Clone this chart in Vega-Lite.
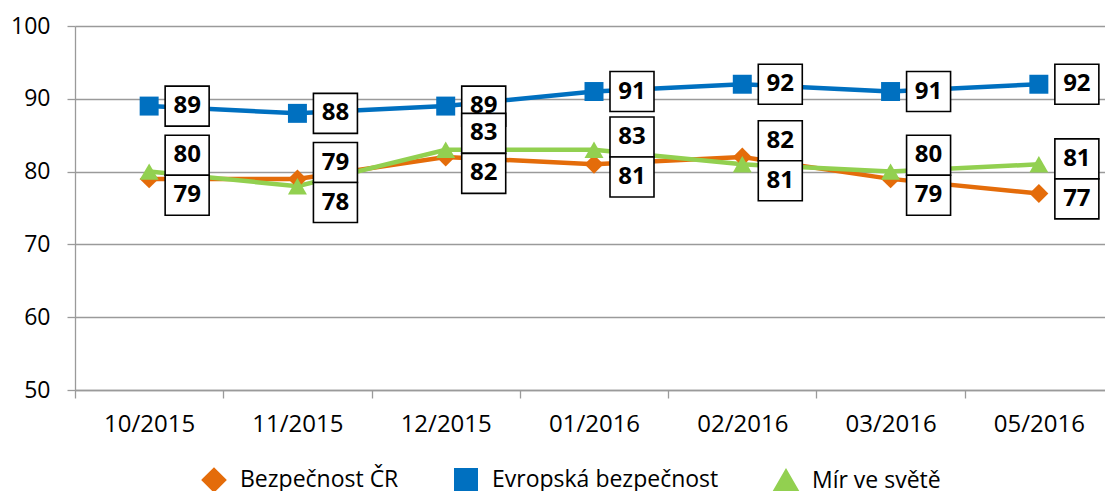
{
  "$schema": "https://vega.github.io/schema/vega-lite/v6.json",
  "width": 1030,
  "height": 364,
  "autosize": {"type": "none"},
  "padding": {"left": 75, "top": 26, "right": 0, "bottom": 101},
  "config": {"view": {"stroke": null}, "font": "Open Sans"},
  "data": {
    "values": [
      {"month": "10/2015", "series": "Bezpečnost ČR", "value": 79},
      {"month": "11/2015", "series": "Bezpečnost ČR", "value": 79},
      {"month": "12/2015", "series": "Bezpečnost ČR", "value": 82},
      {"month": "01/2016", "series": "Bezpečnost ČR", "value": 81},
      {"month": "02/2016", "series": "Bezpečnost ČR", "value": 82},
      {"month": "03/2016", "series": "Bezpečnost ČR", "value": 79},
      {"month": "05/2016", "series": "Bezpečnost ČR", "value": 77},
      {"month": "10/2015", "series": "Evropská bezpečnost", "value": 89},
      {"month": "11/2015", "series": "Evropská bezpečnost", "value": 88},
      {"month": "12/2015", "series": "Evropská bezpečnost", "value": 89},
      {"month": "01/2016", "series": "Evropská bezpečnost", "value": 91},
      {"month": "02/2016", "series": "Evropská bezpečnost", "value": 92},
      {"month": "03/2016", "series": "Evropská bezpečnost", "value": 91},
      {"month": "05/2016", "series": "Evropská bezpečnost", "value": 92},
      {"month": "10/2015", "series": "Mír ve světě", "value": 80},
      {"month": "11/2015", "series": "Mír ve světě", "value": 78},
      {"month": "12/2015", "series": "Mír ve světě", "value": 83},
      {"month": "01/2016", "series": "Mír ve světě", "value": 83},
      {"month": "02/2016", "series": "Mír ve světě", "value": 81},
      {"month": "03/2016", "series": "Mír ve světě", "value": 80},
      {"month": "05/2016", "series": "Mír ve světě", "value": 81}
    ]
  },
  "encoding": {
    "x": {
      "field": "month", "type": "nominal",
      "sort": ["10/2015", "11/2015", "12/2015", "01/2016", "02/2016", "03/2016", "05/2016"],
      "scale": {"type": "band", "range": [0, 1038], "paddingInner": 0, "paddingOuter": 0},
      "axis": {
        "title": null, "grid": false, "labelAngle": 0, "tickBand": "extent",
        "domainColor": "#9a9a9a", "domainWidth": 1.3, "tickColor": "#9a9a9a", "tickWidth": 1.3, "tickSize": 8,
        "labelFontSize": 24, "labelColor": "#000000", "labelPadding": 14, "labelFont": "Open Sans"
      }
    },
    "y": {
      "field": "value", "type": "quantitative",
      "scale": {"domain": [50, 100], "nice": false, "zero": false},
      "axis": {
        "title": null, "values": [50, 60, 70, 80, 90, 100],
        "domainColor": "#9a9a9a", "domainWidth": 1.3, "tickColor": "#9a9a9a", "tickWidth": 1.3, "tickSize": 8,
        "gridColor": "#9a9a9a", "gridWidth": 1.3,
        "labelFontSize": 23, "labelColor": "#000000", "labelPadding": 17, "labelFont": "Open Sans"
      }
    }
  },
  "layer": [
    {
      "mark": {"type": "line", "strokeWidth": 4.5},
      "encoding": {
        "color": {
          "field": "series", "type": "nominal",
          "scale": {"domain": ["Bezpečnost ČR", "Evropská bezpečnost", "Mír ve světě"], "range": ["#E46C0A", "#0070C0", "#92D050"]},
          "legend": {
            "title": null, "orient": "none", "legendX": 127, "legendY": 442, "direction": "horizontal",
            "labelFontSize": 23, "labelFont": "Open Sans", "labelColor": "#000000", "labelLimit": 500,
            "symbolSize": 400, "symbolStrokeWidth": 4, "labelOffset": 14, "columnPadding": 49,
            "encode": {
              "symbols": {
                "update": {
                  "shape": {"value": {"signal": "datum.value === 'Bezpečnost ČR' ? 'M-2.9,0L2.9,0M0,-0.75L0.75,0L0,0.75L-0.75,0Z' : datum.value === 'Evropská bezpečnost' ? 'M-2.9,0L2.9,0M-0.65,-0.65L0.65,-0.65L0.65,0.65L-0.65,0.65Z' : 'M-2.9,0L2.9,0M0,-0.75L0.8,0.6L-0.8,0.6Z'"}},
                  "fill": {"value": {"signal": "datum.value === 'Bezpečnost ČR' ? '#E46C0A' : datum.value === 'Evropská bezpečnost' ? '#0070C0' : '#92D050'"}},
                  "stroke": {"value": {"signal": "datum.value === 'Bezpečnost ČR' ? '#E46C0A' : datum.value === 'Evropská bezpečnost' ? '#0070C0' : '#92D050'"}},
                  "strokeWidth": {"value": 4},
                  "strokeOpacity": {"value": 1},
                  "opacity": {"value": 1}
                }
              }
            }
          }
        }
      }
    },
    {
      "mark": {"type": "point", "filled": true, "size": 360, "opacity": 1},
      "encoding": {
        "color": {
          "field": "series", "type": "nominal",
          "legend": {
            "title": null, "orient": "none", "legendX": 127, "legendY": 442, "direction": "horizontal",
            "labelFontSize": 23, "labelFont": "Open Sans", "labelColor": "#000000", "labelLimit": 500,
            "symbolSize": 400, "symbolStrokeWidth": 4, "labelOffset": 14, "columnPadding": 49,
            "encode": {
              "symbols": {
                "update": {
                  "shape": {"value": {"signal": "datum.value === 'Bezpečnost ČR' ? 'M-2.9,0L2.9,0M0,-0.75L0.75,0L0,0.75L-0.75,0Z' : datum.value === 'Evropská bezpečnost' ? 'M-2.9,0L2.9,0M-0.65,-0.65L0.65,-0.65L0.65,0.65L-0.65,0.65Z' : 'M-2.9,0L2.9,0M0,-0.75L0.8,0.6L-0.8,0.6Z'"}},
                  "fill": {"value": {"signal": "datum.value === 'Bezpečnost ČR' ? '#E46C0A' : datum.value === 'Evropská bezpečnost' ? '#0070C0' : '#92D050'"}},
                  "stroke": {"value": {"signal": "datum.value === 'Bezpečnost ČR' ? '#E46C0A' : datum.value === 'Evropská bezpečnost' ? '#0070C0' : '#92D050'"}},
                  "strokeWidth": {"value": 4},
                  "strokeOpacity": {"value": 1},
                  "opacity": {"value": 1}
                }
              }
            }
          }
        },
        "shape": {
          "field": "series", "type": "nominal",
          "scale": {"domain": ["Bezpečnost ČR", "Evropská bezpečnost", "Mír ve světě"], "range": ["diamond", "square", "triangle-up"]},
          "legend": null
        }
      }
    },
    {
      "transform": [{"filter": "datum.series === 'Evropská bezpečnost'"}],
      "layer": [
        {
          "mark": {"type": "point", "shape": "M-1.1,-1L1.1,-1L1.1,1L-1.1,1Z", "size": 1600, "filled": true, "fill": "#ffffff", "stroke": "#000000", "strokeWidth": 1.6, "opacity": 1, "xOffset": 38}
        },
        {
          "mark": {"type": "text", "fontSize": 24, "fontWeight": "bold", "font": "Open Sans", "color": "#000000", "xOffset": 38, "baseline": "middle", "align": "center"},
          "encoding": {"text": {"field": "value", "type": "quantitative"}}
        }
      ]
    },
    {
      "transform": [
        {"filter": "datum.series !== 'Evropská bezpečnost'"},
        {"joinaggregate": [{"op": "mean", "field": "value", "as": "mid"}], "groupby": ["month"]},
        {"window": [{"op": "rank", "as": "rk"}], "sort": [{"field": "value", "order": "descending"}], "groupby": ["month"]}
      ],
      "layer": [
        {
          "transform": [{"filter": "datum.rk === 1"}],
          "mark": {"type": "point", "shape": "M-1.1,-1L1.1,-1L1.1,1L-1.1,1Z", "size": 1600, "filled": true, "fill": "#ffffff", "stroke": "#000000", "strokeWidth": 1.6, "opacity": 1, "xOffset": 38, "yOffset": -20},
          "encoding": {"y": {"field": "mid", "type": "quantitative"}}
        },
        {
          "transform": [{"filter": "datum.rk === 1"}],
          "mark": {"type": "text", "fontSize": 24, "fontWeight": "bold", "font": "Open Sans", "color": "#000000", "xOffset": 38, "yOffset": -20, "baseline": "middle", "align": "center"},
          "encoding": {"y": {"field": "mid", "type": "quantitative"}, "text": {"field": "value", "type": "quantitative"}}
        },
        {
          "transform": [{"filter": "datum.rk === 2"}],
          "mark": {"type": "point", "shape": "M-1.1,-1L1.1,-1L1.1,1L-1.1,1Z", "size": 1600, "filled": true, "fill": "#ffffff", "stroke": "#000000", "strokeWidth": 1.6, "opacity": 1, "xOffset": 38, "yOffset": 20},
          "encoding": {"y": {"field": "mid", "type": "quantitative"}}
        },
        {
          "transform": [{"filter": "datum.rk === 2"}],
          "mark": {"type": "text", "fontSize": 24, "fontWeight": "bold", "font": "Open Sans", "color": "#000000", "xOffset": 38, "yOffset": 20, "baseline": "middle", "align": "center"},
          "encoding": {"y": {"field": "mid", "type": "quantitative"}, "text": {"field": "value", "type": "quantitative"}}
        }
      ]
    }
  ]
}
